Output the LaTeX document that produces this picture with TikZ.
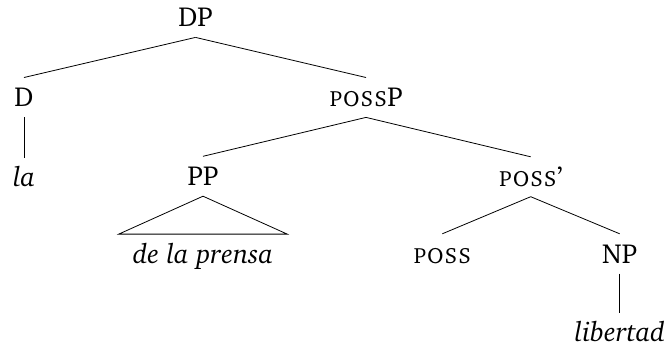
\documentclass[tikz,border=0pt]{standalone}
\IfFileExists{t1bch.fd}{\usepackage[T1]{fontenc}\renewcommand{\rmdefault}{bch}}{}
\begin{document}
\begin{tikzpicture}[x=1pt,y=1pt,
  lbl/.style={anchor=base,font=\fontsize{27.5}{33}\selectfont,
    text height=18.5pt,text depth=0pt,inner ysep=10.5pt,inner xsep=0pt},
  leaf/.style={lbl,font=\fontsize{27.5}{33}\selectfont\itshape},
  roof/.style={leaf,inner xsep=14pt},
  branch/.style={line width=0.8pt}]
\useasboundingbox (0,0) rectangle (668,-351);
% labels
\node[lbl]  (dp)    at (195.5,-26.7) {DP};
\node[lbl]  (d)     at (24,-106.7)   {D};
\node[lbl]  (possp) at (366,-106.7)  {\textsc{poss}P};
\node[leaf] (la)    at (24,-186.7)   {la};
\node[lbl]  (pp)    at (203,-185.5)  {PP};
\node[lbl]  (possb) at (530.7,-186)  {\textsc{poss}'};
\node[roof] (dlp)   at (203,-263.3)  {de la prensa};
\node[lbl]  (poss)  at (442.3,-263)  {\textsc{poss}};
\node[lbl]  (np)    at (619.7,-263)  {NP};
\node[leaf] (lib)   at (619.7,-341.7) {libertad};
% branches
\draw[branch] (dp.south) -- (d.north);
\draw[branch] (dp.south) -- (possp.north);
\draw[branch] (d.south) -- (la.north);
\draw[branch] (possp.south) -- (pp.north);
\draw[branch] (possp.south) -- (possb.north);
\draw[branch] (possb.south) -- (poss.north);
\draw[branch] (possb.south) -- (np.north);
\draw[branch] (np.south) -- (lib.north);
\draw[branch] (pp.south) -- (dlp.north east) -- (dlp.north west) -- cycle;
\end{tikzpicture}
\end{document}
